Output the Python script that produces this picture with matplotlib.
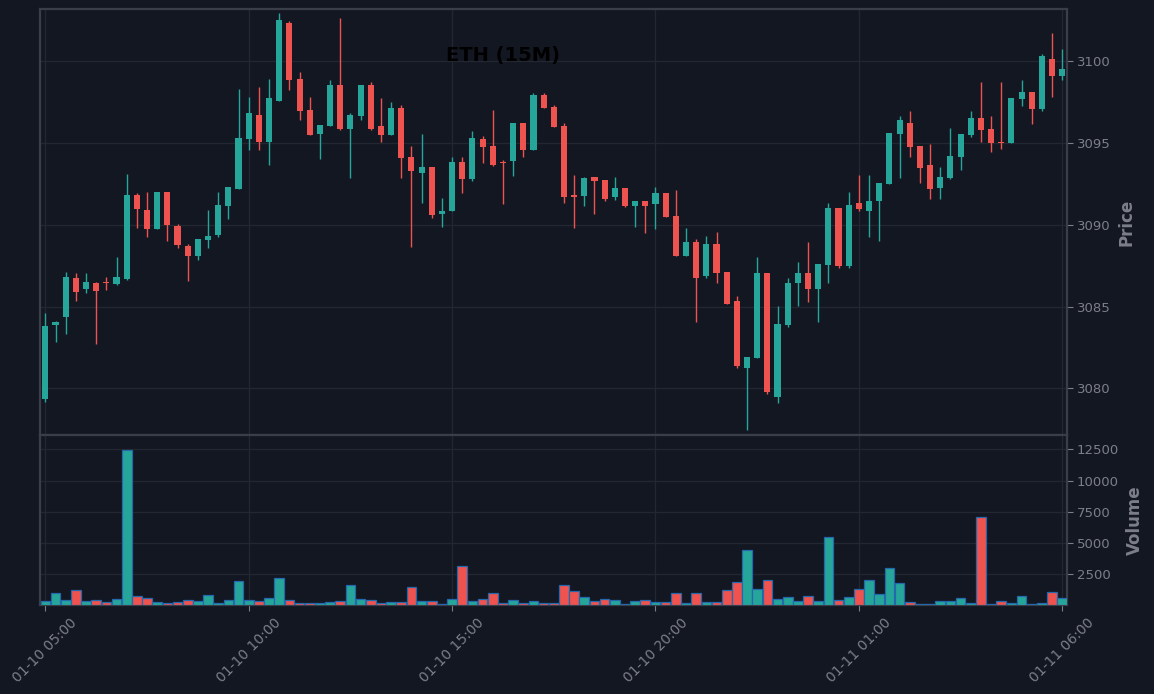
import numpy as np
import pandas as pd
import matplotlib
matplotlib.use('Agg')
import matplotlib.pyplot as plt

# 15 minute candles, 01-10 05:00 .. 01-11 06:00
times = pd.date_range('2025-01-10 05:00', periods=101, freq='15min')

opens = [3079.37, 3083.89, 3084.38, 3086.75, 3086.10, 3086.44, 3086.50, 3086.40, 3086.71, 3091.82,
         3090.91, 3089.77, 3092.01, 3089.93, 3088.71, 3088.11, 3089.09, 3089.40, 3091.17, 3092.21,
         3095.27, 3096.72, 3095.09, 3097.59, 3102.34, 3098.92, 3097.02, 3095.58, 3096.07, 3098.55,
         3095.88, 3096.68, 3098.55, 3096.04, 3095.51, 3097.15, 3094.15, 3093.19, 3093.54, 3090.68,
         3090.87, 3093.84, 3092.82, 3095.25, 3094.82, 3093.84, 3093.92, 3096.23, 3094.60, 3097.94,
         3097.21, 3096.04, 3091.80, 3091.78, 3092.93, 3092.74, 3091.72, 3092.25, 3091.17, 3091.46,
         3091.29, 3091.95, 3090.54, 3088.11, 3088.95, 3086.89, 3088.83, 3087.12, 3085.34, 3081.26,
         3081.86, 3087.05, 3079.49, 3083.89, 3086.46, 3087.05, 3086.10, 3087.56, 3091.03, 3087.50,
         3091.34, 3090.87, 3091.48, 3092.52, 3095.58, 3096.23, 3094.82, 3093.66, 3092.27, 3092.88,
         3094.17, 3095.51, 3096.53, 3095.86, 3095.07, 3095.03, 3097.72, 3098.12, 3097.11, 3100.14,
         3099.12]
highs = [3084.59, 3084.12, 3087.09, 3087.03, 3087.03, 3086.50, 3086.79, 3088.01, 3093.09, 3091.93,
         3091.99, 3092.01, 3092.01, 3090.03, 3088.81, 3089.13, 3090.89, 3091.99, 3092.31, 3098.29,
         3097.80, 3098.41, 3098.90, 3102.94, 3102.45, 3099.33, 3097.80, 3096.09, 3098.84, 3102.63,
         3096.82, 3098.55, 3098.72, 3097.74, 3097.49, 3097.31, 3094.80, 3095.54, 3093.54, 3091.62,
         3094.15, 3094.15, 3095.74, 3095.41, 3097.00, 3093.94, 3096.23, 3096.23, 3098.04, 3098.04,
         3097.31, 3096.21, 3093.05, 3092.93, 3092.93, 3092.74, 3092.93, 3092.25, 3091.46, 3091.46,
         3092.31, 3091.95, 3092.13, 3089.81, 3089.13, 3089.30, 3089.56, 3087.12, 3085.63, 3081.92,
         3088.01, 3087.05, 3085.02, 3086.73, 3087.71, 3088.93, 3087.60, 3091.31, 3091.03, 3091.99,
         3093.03, 3093.03, 3092.56, 3095.62, 3096.66, 3096.96, 3094.82, 3094.92, 3093.52, 3095.90,
         3095.56, 3096.94, 3098.72, 3096.66, 3098.72, 3097.76, 3098.84, 3098.12, 3100.45, 3101.73,
         3100.73]
lows = [3079.18, 3082.81, 3083.30, 3085.32, 3085.81, 3082.69, 3085.99, 3086.30, 3086.65, 3089.79,
        3089.28, 3089.77, 3088.99, 3088.60, 3086.59, 3087.87, 3088.60, 3089.28, 3090.38, 3092.21,
        3094.60, 3094.60, 3093.64, 3097.59, 3098.27, 3096.39, 3095.51, 3094.00, 3096.07, 3095.82,
        3092.84, 3096.39, 3095.82, 3095.05, 3095.51, 3092.88, 3088.62, 3091.32, 3090.40, 3089.89,
        3090.87, 3091.93, 3092.70, 3093.80, 3093.62, 3091.29, 3093.00, 3094.17, 3094.60, 3097.17,
        3096.00, 3091.32, 3089.79, 3091.13, 3090.64, 3091.48, 3091.50, 3091.11, 3089.89, 3089.52,
        3089.77, 3090.50, 3088.11, 3088.11, 3084.04, 3086.77, 3086.46, 3085.18, 3081.26, 3077.43,
        3081.86, 3079.63, 3079.08, 3083.73, 3085.02, 3085.30, 3084.04, 3086.46, 3087.38, 3087.38,
        3090.83, 3089.24, 3088.99, 3092.52, 3092.88, 3094.13, 3092.58, 3091.60, 3091.60, 3092.82,
        3093.37, 3095.39, 3095.05, 3094.43, 3094.62, 3095.03, 3097.29, 3096.19, 3096.98, 3097.80,
        3098.88]
closes = [3083.81, 3084.06, 3086.81, 3085.91, 3086.50, 3085.97, 3086.46, 3086.81, 3091.82, 3090.99,
          3089.77, 3092.01, 3090.01, 3088.79, 3088.11, 3089.13, 3089.32, 3091.21, 3092.31, 3095.31,
          3096.84, 3095.09, 3097.76, 3102.53, 3098.88, 3096.98, 3095.51, 3096.09, 3098.55, 3095.88,
          3096.72, 3098.55, 3095.88, 3095.51, 3097.15, 3094.11, 3093.31, 3093.54, 3090.62, 3090.85,
          3093.84, 3092.82, 3095.31, 3094.78, 3093.68, 3093.80, 3096.23, 3094.60, 3097.94, 3097.17,
          3096.00, 3091.72, 3091.72, 3092.86, 3092.70, 3091.58, 3092.25, 3091.17, 3091.46, 3091.17,
          3091.95, 3090.50, 3088.11, 3088.95, 3086.77, 3088.83, 3087.07, 3085.18, 3081.39, 3081.92,
          3087.05, 3079.80, 3083.93, 3086.44, 3087.05, 3086.10, 3087.60, 3091.03, 3087.50, 3091.21,
          3090.99, 3091.46, 3092.56, 3095.62, 3096.41, 3094.78, 3093.50, 3092.21, 3092.93, 3094.21,
          3095.56, 3096.53, 3095.82, 3095.03, 3095.03, 3097.76, 3098.12, 3097.11, 3100.33, 3099.12,
          3099.53]
volumes = [340, 980, 420, 1220, 340, 420, 260, 500, 12420, 740,
           580, 260, 180, 260, 420, 340, 820, 180, 420, 1940,
           420, 340, 580, 2180, 420, 180, 180, 180, 260, 340,
           1620, 500, 420, 180, 260, 260, 1460, 340, 340, 100,
           500, 3140, 340, 500, 980, 180, 420, 180, 340, 180,
           180, 1620, 1140, 660, 340, 500, 420, 100, 340, 420,
           260, 260, 980, 180, 980, 260, 260, 1220, 1860, 4420,
           1300, 2020, 500, 660, 340, 740, 340, 5460, 420, 660,
           1300, 2020, 900, 2980, 1780, 260, 100, 100, 340, 340,
           580, 180, 7060, 100, 340, 180, 740, 100, 180, 1060,
           580]

bg = '#131722'
up = '#26a69a'
down = '#ef5350'
frame = '#3a3e48'
gridc = '#232731'
txt = '#7c7f88'

df = pd.DataFrame({'open': opens, 'high': highs, 'low': lows, 'close': closes,
                   'volume': volumes}, index=times)
x = np.arange(len(df))
colors = [up if c >= o else down for o, c in zip(df['open'], df['close'])]

fig = plt.figure(figsize=(11.54, 6.94), dpi=100, facecolor=bg)
ax1 = fig.add_axes([0.0347, 0.3732, 0.8896, 0.6138])
ax2 = fig.add_axes([0.0347, 0.1282, 0.8896, 0.245], sharex=ax1)

# candles
ax1.vlines(x, df['low'], df['high'], colors=colors, linewidth=1.0, zorder=2)
body = np.maximum((df['close'] - df['open']).abs(), 0.06)
ax1.bar(x, body, bottom=np.minimum(df['open'], df['close']), width=0.6,
        color=colors, linewidth=0, zorder=3)

# volume
ax2.bar(x, df['volume'], width=0.95, color=colors, edgecolor='#2468ad',
        linewidth=0.9, zorder=3)

ax1.set_xlim(-0.52, 100.43)
ax1.set_ylim(3077.14, 3103.2)
ax2.set_ylim(0.3 * min(volumes), 1.1 * max(volumes))

tick_pos = x[::20]
ax2.set_xticks(tick_pos)
ax2.set_xticklabels([t.strftime('%m-%d %H:%M') for t in times[tick_pos]],
                    rotation=45, ha='center', fontsize=10, color=txt)
ax1.tick_params(axis='x', labelbottom=False, length=0)
ax1.set_yticks([3080, 3085, 3090, 3095, 3100])
ax2.set_yticks([2500, 5000, 7500, 10000, 12500])

for ax, label in [(ax1, 'Price'), (ax2, 'Volume')]:
    ax.set_facecolor(bg)
    ax.grid(True, color=gridc, linewidth=0.9)
    ax.set_axisbelow(True)
    ax.yaxis.tick_right()
    ax.yaxis.set_label_position('right')
    ax.set_ylabel(label, fontsize=12, fontweight='bold', color=txt, labelpad=5)
    ax.tick_params(axis='y', colors=txt, labelsize=9.5, length=4)
    ax.tick_params(axis='x', colors=txt, length=4)
    for s in ax.spines.values():
        s.set_color(frame)
        s.set_linewidth(1.6)

fig.text(503 / 1154, 1 - 56 / 694, 'ETH (15M)', ha='center', va='center',
         fontsize=14, fontweight='bold', color='black')

fig.savefig('out.png', dpi=100, facecolor=bg)
